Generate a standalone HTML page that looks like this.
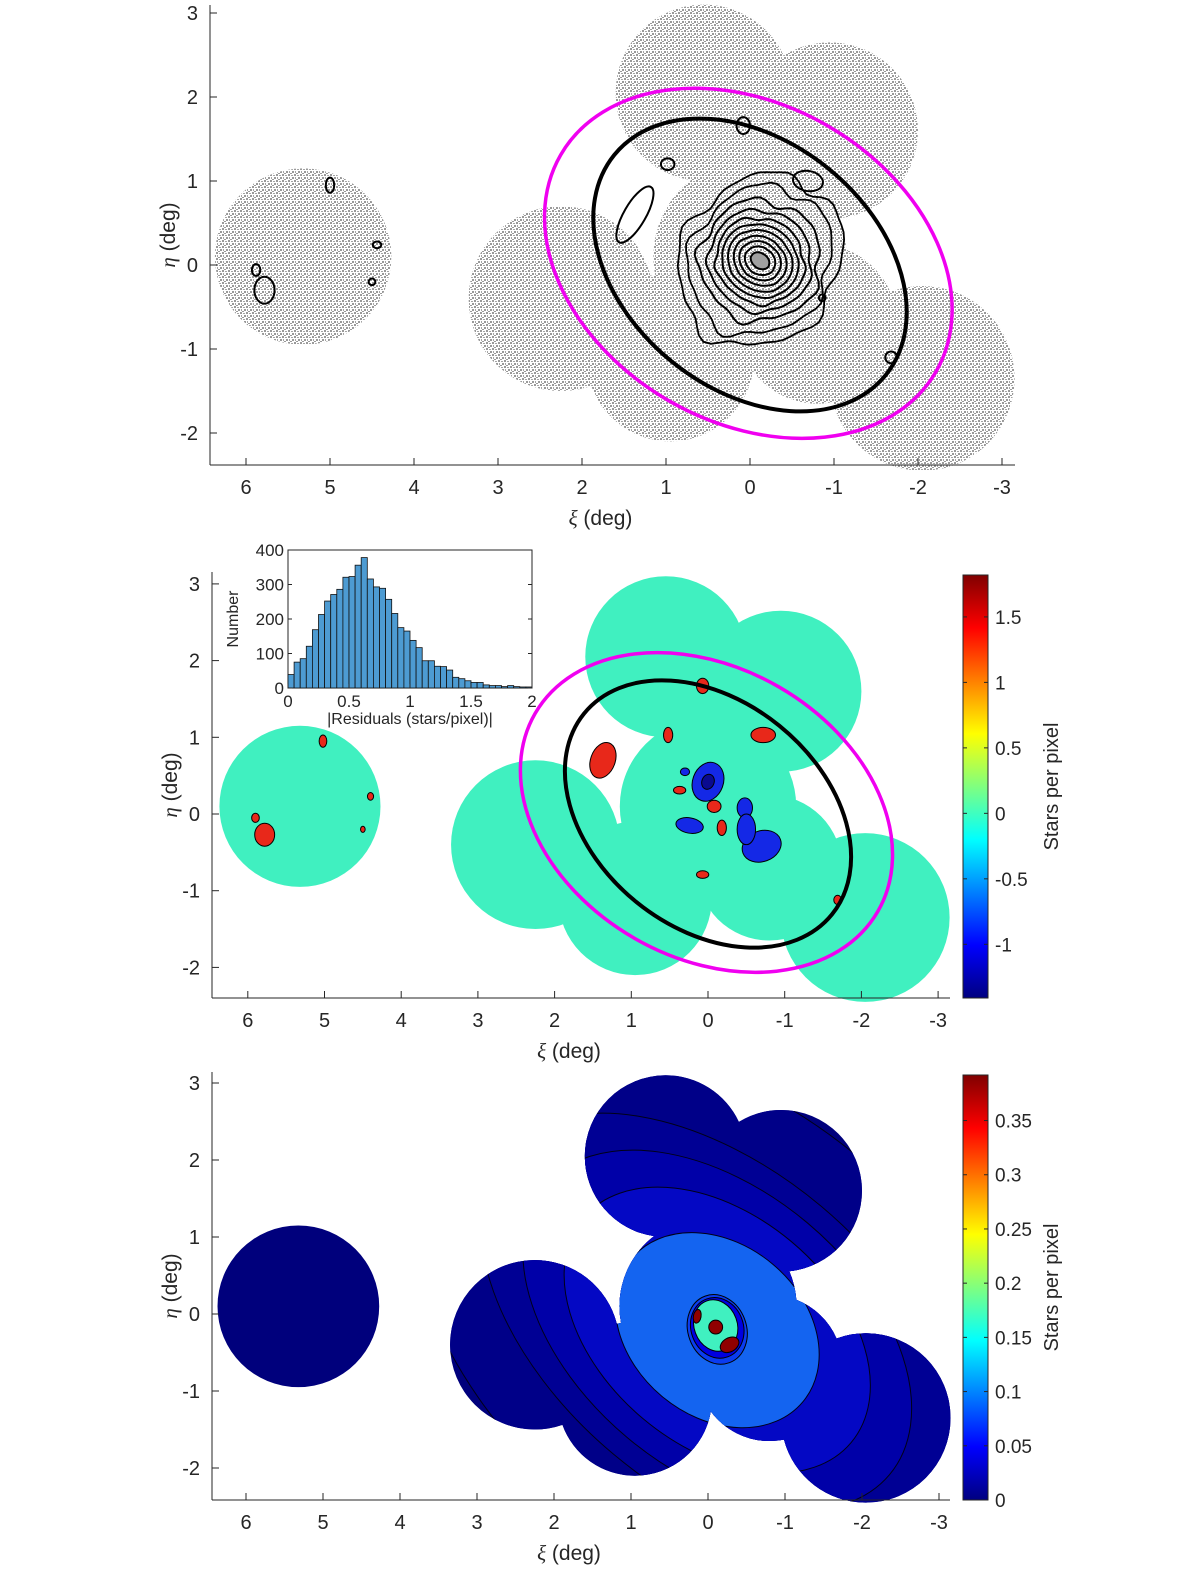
<!DOCTYPE html>
<html><head><meta charset="utf-8">
<style>
html,body{margin:0;padding:0;background:#fff;width:1200px;height:1589px;overflow:hidden;}
svg{display:block;position:absolute;left:0;top:0;font-family:"Liberation Sans",sans-serif;}
</style></head>
<body>
<svg id="fig" xmlns="http://www.w3.org/2000/svg" width="1200" height="1589" viewBox="0 0 1200 1589">
<defs>
<pattern id="stars" width="6" height="6" patternUnits="userSpaceOnUse">
<rect width="6" height="6" fill="#ffffff"/>
<rect x="0" y="0" width="2" height="2" fill="#999"/>
<rect x="3" y="1" width="2" height="1" fill="#a4a4a4"/>
<rect x="4" y="3" width="2" height="2" fill="#999"/>
<rect x="1" y="3" width="1" height="2" fill="#a4a4a4"/>
<rect x="2" y="5" width="2" height="1" fill="#999"/>
</pattern>
<linearGradient id="jet" x1="0" y1="1" x2="0" y2="0">
<stop offset="0" stop-color="#000080"/><stop offset="0.125" stop-color="#0000ff"/>
<stop offset="0.375" stop-color="#00ffff"/><stop offset="0.625" stop-color="#ffff00"/>
<stop offset="0.875" stop-color="#ff0000"/><stop offset="1" stop-color="#800000"/>
</linearGradient>
<clipPath id="clip3"></clipPath>
</defs>
</svg>
<script>
// ---- data ----
const fieldXi  = [5.32, 2.25, 0.55, -0.95, 0.0, -0.8, 0.95, -2.05];
const fieldEta = [0.10, -0.40, 2.05, 1.60, 0.10, -0.70, -1.10, -1.35];
const fieldR   = [1.05, 1.10, 1.05, 1.05, 1.15, 0.95, 1.00, 1.10];
const xTicks = [6,5,4,3,2,1,0,-1,-2,-3];
const yTicks = [3,2,1,0,-1,-2];
const histCounts = [39,75,85,121,169,213,252,271,286,321,323,356,378,316,293,289,257,216,175,165,138,117,79,79,63,62,52,31,27,21,16,16,9,7,7,4,7,4,3,3];
const histBinWidth = 0.05;
const histYTicks = [0,100,200,300,400];
const histXTicks = [0,0.5,1,1.5,2];
const cb2Ticks = [1.5,1,0.5,0,-0.5,-1];
const cb3Ticks = [0.35,0.3,0.25,0.2,0.15,0.1,0.05,0];
const coreRx = [0.93,0.82,0.72,0.62,0.54,0.47,0.40,0.33,0.26,0.19,0.12];
const coreRy = [1.07,0.92,0.72,0.60,0.50,0.42,0.35,0.28,0.22,0.16,0.09];
const bandA = [4.6,3.6,2.92,2.27,1.45];
const bandB = [2.9,2.1,1.82,1.5,1.12];
const bandColor = ["#000088","#000094","#0000a8","#0408c4","#1464f0"];

const svg = document.getElementById('fig');
const NS = 'http://www.w3.org/2000/svg';
function mk(tag, attrs, parent){const e=document.createElementNS(NS,tag);for(const k in attrs)e.setAttribute(k,attrs[k]);(parent||svg).appendChild(e);return e;}

const P1={x0:750,y0:265,s:84,left:210,right:1015,top:5,bottom:465};
const P2={x0:708,y0:814,s:76.7,left:212,right:950,top:572,bottom:998};
const P3={x0:708,y0:1314,s:77,left:212,right:950,top:1072,bottom:1500};
const X=(p,xi)=>p.x0-xi*p.s, Y=(p,eta)=>p.y0-eta*p.s;

function footprint(p, parent, fill, name){
  const g=mk('g',{},parent);
  
  
  for(let i=0;i<fieldXi.length;i++){
    const c=mk('circle',{cx:X(p,fieldXi[i]),cy:Y(p,fieldEta[i]),r:fieldR[i]*p.s,fill:fill},g);
    
    
  }
  return g;
}
function ell(p,xi,eta,a,b,ang,attrs,parent,name){
  const e=mk('ellipse',Object.assign({cx:X(p,xi),cy:Y(p,eta),rx:a*p.s,ry:b*p.s,transform:`rotate(${ang} ${X(p,xi)} ${Y(p,eta)})`},attrs),parent);
  
  
  return e;
}
function axes(p,label){
  const g=mk('g',{});
  
  
  mk('line',{x1:p.left,y1:p.top,x2:p.left,y2:p.bottom,stroke:'#262626','stroke-width':1},g);
  mk('line',{x1:p.left,y1:p.bottom,x2:p.right,y2:p.bottom,stroke:'#262626','stroke-width':1},g);
  xTicks.forEach(v=>{const x=X(p,v);mk('line',{x1:x,y1:p.bottom,x2:x,y2:p.bottom-7,stroke:'#262626'},g);
    const t=mk('text',{x:x,y:p.bottom+29,'font-size':20,'text-anchor':'middle',fill:'#262626'},g);t.textContent=String(v);
    
    });
  yTicks.forEach(v=>{const y=Y(p,v);mk('line',{x1:p.left,y1:y,x2:p.left+7,y2:y,stroke:'#262626'},g);
    const t=mk('text',{x:p.left-12,y:y+7,'font-size':20,'text-anchor':'end',fill:'#262626'},g);t.textContent=String(v);
    
    });
  const xl=mk('text',{x:(p.left+p.right)/2-12,y:p.bottom+60,'font-size':21,'text-anchor':'middle',fill:'#262626'},g);
  xl.innerHTML='<tspan font-family="Liberation Serif" font-style="italic">ξ</tspan> (deg)';
  
  
  const cy=(p.top+p.bottom)/2;
  const yl=mk('text',{x:0,y:0,'font-size':21,'text-anchor':'middle',fill:'#262626',transform:`translate(${p.left-35},${cy}) rotate(-90)`},g);
  yl.innerHTML='<tspan font-family="Liberation Serif" font-style="italic">η</tspan> (deg)';
  
  
}
function wobblePath(p,xi,eta,a,b,ang,amp,ph){
  let d='';const cx=X(p,xi),cy=Y(p,eta),t=ang*Math.PI/180;
  for(let k=0;k<=72;k++){const th=k/72*2*Math.PI;const f=1+amp*(Math.sin(5*th+ph)+0.6*Math.sin(9*th+2*ph)+0.4*Math.sin(13*th+ph*3));
    const u=a*p.s*f*Math.cos(th),v=b*p.s*f*Math.sin(th);
    const x=cx+u*Math.cos(t)-v*Math.sin(t),y=cy+u*Math.sin(t)+v*Math.cos(t);d+=(k?'L':'M')+x.toFixed(1)+' '+y.toFixed(1);}
  return d+'Z';
}

// ===== Panel 1 =====
const g1=mk('g',{});


footprint(P1,g1,'url(#stars)','star-distribution');
for(let i=0;i<coreRx.length;i++){
  const amp = i<3?0.05:(i<5?0.03:0.01);
  const pth=mk('path',{d:wobblePath(P1,-0.12,0.05,coreRx[i],coreRy[i],35,amp,i*0.7),fill:i==coreRx.length-1?'#a0a0a0':'none',stroke:'#000','stroke-width':i<2?1.8:2},g1);
  
  
}
const smallC1=[[5.0,0.95,0.05,0.09,0],[4.44,0.24,0.05,0.04,0],[4.5,-0.2,0.04,0.04,0],[5.88,-0.06,0.05,0.07,0],[5.78,-0.3,0.12,0.16,0],[0.08,1.66,0.08,0.1,0],[0.98,1.2,0.08,0.07,0],[-0.69,1.0,0.18,0.12,10],[1.37,0.6,0.13,0.38,30],[-0.86,-0.39,0.04,0.04,0],[-1.68,-1.1,0.07,0.07,0]];
smallC1.forEach(c=>ell(P1,c[0],c[1],c[2],c[3],c[4],{fill:'none',stroke:'#000','stroke-width':2},g1,'small-contour'));
ell(P1,0,0,2.08,1.48,39,{fill:'none',stroke:'#000','stroke-width':4},g1,'black-ellipse');
ell(P1,0.02,0.02,2.58,1.89,30,{fill:'none',stroke:'#f000f0','stroke-width':3.5},g1,'magenta-ellipse');
axes(P1,'star-map');

// ===== Panel 2 =====
const g2=mk('g',{});


footprint(P2,g2,'#40f0c0','residual-field');
const red2=[[1.37,0.70,0.16,0.24,20],[0.07,1.67,0.08,0.1,0],[-0.72,1.03,0.16,0.1,0],[0.52,1.03,0.06,0.1,0],[5.02,0.95,0.05,0.08,0],[5.78,-0.27,0.13,0.15,0],[5.9,-0.05,0.05,0.06,0],[4.4,0.23,0.04,0.05,0],[4.5,-0.2,0.03,0.04,0],[0.37,0.31,0.08,0.05,0],[-0.08,0.1,0.09,0.08,0],[-0.18,-0.18,0.06,0.1,0],[0.07,-0.79,0.08,0.05,0],[-1.69,-1.12,0.05,0.06,0]];
const blue2=[[0,0.42,0.2,0.26,20],[0.24,-0.15,0.18,0.1,10],[-0.48,0.08,0.1,0.13,0],[-0.7,-0.42,0.26,0.2,-20],[-0.5,-0.2,0.12,0.2,0],[0.3,0.55,0.06,0.05,0]];
blue2.forEach(c=>ell(P2,c[0],c[1],c[2],c[3],c[4],{fill:'#1428e6',stroke:'#000','stroke-width':1},g2,'negative-residual'));
ell(P2,0,0.42,0.08,0.1,20,{fill:'#0a0a90',stroke:'#000','stroke-width':1},g2,'negative-residual-core');
red2.forEach(c=>ell(P2,c[0],c[1],c[2],c[3],c[4],{fill:'#e8281a',stroke:'#000','stroke-width':1},g2,'positive-residual'));
ell(P2,0,0,2.08,1.48,39,{fill:'none',stroke:'#000','stroke-width':4},g2,'black-ellipse');
ell(P2,0.02,0.02,2.58,1.89,30,{fill:'none',stroke:'#f000f0','stroke-width':3.5},g2,'magenta-ellipse');
axes(P2,'residual');

// inset histogram
const H={left:288,right:532,top:550,bottom:688};
const hx=v=>H.left+v/2*(H.right-H.left), hy=v=>H.bottom-v/400*(H.bottom-H.top);
const gi=mk('g',{});


mk('rect',{x:H.left,y:H.top,width:H.right-H.left,height:H.bottom-H.top,fill:'#fff',stroke:'#262626'},gi);
histCounts.forEach((c,i)=>{const r=mk('rect',{x:hx(i*histBinWidth),y:hy(c),width:hx(histBinWidth)-hx(0),height:hy(0)-hy(c),fill:'#4d9bd2',stroke:'#111','stroke-width':0.8},gi);
  
  });
histYTicks.forEach(v=>{mk('line',{x1:H.left,y1:hy(v),x2:H.left+4,y2:hy(v),stroke:'#262626'},gi);mk('line',{x1:H.right,y1:hy(v),x2:H.right-4,y2:hy(v),stroke:'#262626'},gi);
  const t=mk('text',{x:H.left-4,y:hy(v)+6,'font-size':17,'text-anchor':'end',fill:'#262626'},gi);t.textContent=v;
  
  });
histXTicks.forEach(v=>{mk('line',{x1:hx(v),y1:H.bottom,x2:hx(v),y2:H.bottom-4,stroke:'#262626'},gi);
  const t=mk('text',{x:hx(v),y:H.bottom+19,'font-size':17,'text-anchor':'middle',fill:'#262626'},gi);t.textContent=v;
  
  });
const ixl=mk('text',{x:(H.left+H.right)/2,y:H.bottom+36,'font-size':16,'text-anchor':'middle',fill:'#262626'},gi);ixl.textContent='|Residuals (stars/pixel)|';


const iyl=mk('text',{x:0,y:0,'font-size':16,'text-anchor':'middle',fill:'#262626',transform:`translate(238,${(H.top+H.bottom)/2}) rotate(-90)`},gi);iyl.textContent='Number';



// ===== Panel 3 =====
const g3=mk('g',{});


const cp=document.getElementById('clip3');
for(let i=0;i<fieldXi.length;i++){mk('circle',{cx:X(P3,fieldXi[i]),cy:Y(P3,fieldEta[i]),r:fieldR[i]*P3.s},cp);}
const gb=mk('g',{'clip-path':'url(#clip3)'},g3);
mk('rect',{x:P3.left,y:P3.top,width:P3.right-P3.left,height:P3.bottom-P3.top,fill:'#00007c'},gb);
bandA.forEach((a,i)=>ell(P3,-0.12,-0.21,a,bandB[i],40,{fill:bandColor[i],stroke:'#000018','stroke-width':1},gb,'model-density-band'));
ell(P3,-0.12,-0.2,0.38,0.46,-20,{fill:'#0a3cf0',stroke:'#000','stroke-width':1},g3,'model-ring');
ell(P3,-0.12,-0.18,0.34,0.4,-20,{fill:'#0000e0',stroke:'#000','stroke-width':1},g3,'model-ring-inner');
ell(P3,-0.1,-0.15,0.28,0.34,-20,{fill:'#40f0c0',stroke:'#000','stroke-width':1},g3,'model-core');
ell(P3,-0.1,-0.17,0.09,0.09,0,{fill:'#900000',stroke:'#000','stroke-width':1},g3,'model-peak');
ell(P3,-0.28,-0.4,0.13,0.09,-30,{fill:'#900000',stroke:'#000','stroke-width':1},g3,'model-peak');
ell(P3,0.14,-0.03,0.05,0.09,10,{fill:'#900000',stroke:'#000','stroke-width':1},g3,'model-peak');
axes(P3,'model');

// ===== Colorbars =====
function colorbar(top,bottom,vmin,vmax,ticks,name){
  const g=mk('g',{});
  
  
  mk('rect',{x:963,y:top,width:25,height:bottom-top,fill:'url(#jet)',stroke:'#262626'},g);
  ticks.forEach(v=>{const y=bottom-(v-vmin)/(vmax-vmin)*(bottom-top);
    mk('line',{x1:963,y1:y,x2:967,y2:y,stroke:'#262626'},g);mk('line',{x1:988,y1:y,x2:984,y2:y,stroke:'#262626'},g);
    const t=mk('text',{x:995,y:y+7,'font-size':19,fill:'#262626'},g);t.textContent=v;
    
    });
  const l=mk('text',{x:0,y:0,'font-size':20,'text-anchor':'middle',fill:'#262626',transform:`translate(1058,${(top+bottom)/2}) rotate(-90)`},g);l.textContent='Stars per pixel';
  
  
}
colorbar(575,998,-1.41,1.82,cb2Ticks,'residual-colorbar');
colorbar(1075,1500,0,0.392,cb3Ticks,'model-colorbar');
</script>
</body></html>
